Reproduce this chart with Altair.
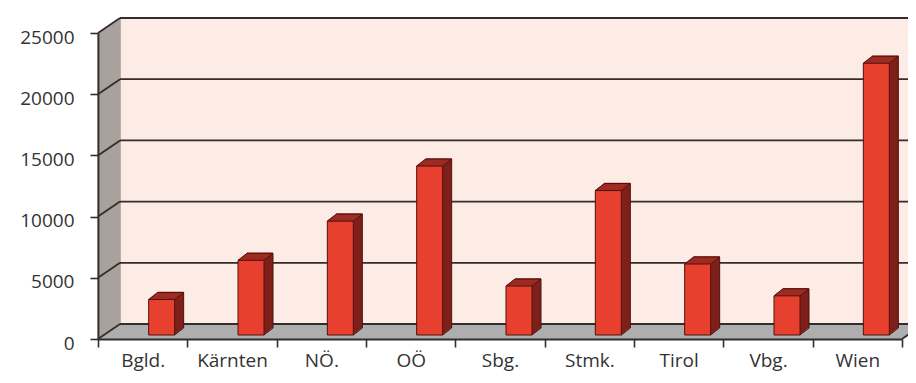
import altair as alt
import pandas as pd

# ---- data -------------------------------------------------------------
regions = ["Bgld.", "Kärnten", "NÖ.", "OÖ", "Sbg.", "Stmk.", "Tirol", "Vbg.", "Wien"]
values = [2900, 6100, 9300, 13800, 4000, 11800, 5800, 3200, 22200]
y_ticks = [0, 5000, 10000, 15000, 20000, 25000]

# ---- geometry / style ------------------------------------------------------
W, H = 804, 306
Y_MAX = 25000
DX, DY = 22, 15            # depth of the 3D frame (px)
BAR_W = 26                 # front face width (px)
BDX, BDY = 9, 7            # depth of the bars (px)
SX, SY = 19, 4             # position of the bars inside the depth (px)
X_END = W + DX + 40

PINK = "#FDEBE5"
WALL = "#A39B96"
FLOOR = "#A9A9AA"
LINE = "#332D2D"
FRONT = "#E8402E"
SIDE = "#7F1F19"
TOP = "#9E2C23"
EDGE = "#4E120E"
FONT = "Open Sans"

yscale = alt.Scale(domain=[0, Y_MAX], nice=False, zero=True)
y_axis = alt.Axis(title=None, orient="left", values=y_ticks, format="d",
                  labelFont=FONT, labelFontSize=19,
                  labelColor="#333333", labelPadding=16, labelOffset=4,
                  tickSize=8, tickColor=LINE, tickWidth=1.6,
                  domainColor=LINE, domainWidth=1.8, grid=False, zindex=1)
x_axis = alt.Axis(title=None, labelAngle=0, labelFont=FONT, labelFontSize=19,
                  labelColor="#333333", labelPadding=4, tickBand="extent",
                  tickSize=8, tickColor=LINE, tickWidth=1.6,
                  domainColor=LINE, domainWidth=1.8, zindex=1)
xscale = alt.Scale(domain=regions, paddingInner=0, paddingOuter=0)


def Yf(field):
    return alt.Y(field, type="quantitative", scale=yscale, axis=y_axis, title=None)


def Yd(v):
    return alt.Y(datum=v, scale=yscale, axis=y_axis, title=None)


one = pd.DataFrame({"k": [0]})
ticks_df = pd.DataFrame({"v": y_ticks})

# ---- frame (walls, floor, grid) ------------------------------------------------
layers = []
layers.append(alt.Chart(one).mark_rect(color=PINK, yOffset=-DY, y2Offset=-DY).encode(
    x=alt.value(DX), x2=alt.value(X_END), y=Yd(Y_MAX), y2=alt.Y2(datum=0)))
# floor: stack of horizontal strokes
for j in range(0, DY + 1):
    sx = j * DX / DY
    layers.append(alt.Chart(one).mark_rule(color=FLOOR, strokeWidth=1.5, yOffset=-j).encode(
        x=alt.value(sx), x2=alt.value(W + sx), y=Yd(0)))
# left wall: stack of vertical strokes
for i in range(0, DX + 1):
    oy = -i * DY / DX
    layers.append(alt.Chart(one).mark_rule(color=WALL, strokeWidth=1.5, yOffset=oy, y2Offset=oy).encode(
        x=alt.value(i), y=Yd(0), y2=alt.Y2(datum=Y_MAX)))
# grid lines on back wall
layers.append(alt.Chart(ticks_df).mark_rule(color=LINE, strokeWidth=1.8, yOffset=-DY).encode(
    x=alt.value(DX), x2=alt.value(X_END), y=Yf("v:Q")))
# diagonals on left wall
layers.append(alt.Chart(ticks_df).mark_rule(color=LINE, strokeWidth=1.8, y2Offset=-DY).encode(
    x=alt.value(0), x2=alt.value(DX), y=Yf("v:Q"), y2="v:Q"))
# right edge of floor
layers.append(alt.Chart(one).mark_rule(color=LINE, strokeWidth=1.8, y2Offset=-DY).encode(
    x=alt.value(W), x2=alt.value(W + DX), y=Yd(0), y2=alt.Y2(datum=0)))

# ---- bars -------------------------------------------------------------
bars_df = pd.DataFrame({"region": regions, "value": values, "base": [0] * len(regions)})
base = alt.Chart(bars_df).encode(
    x=alt.X("region:N", sort=regions, scale=xscale, axis=x_axis), y=Yf("value:Q"))

# side (extrusion)
for i in range(1, BDX + 1):
    off_y = -SY - i * BDY / BDX
    layers.append(base.mark_bar(size=BAR_W, color=SIDE, xOffset=SX + i,
                                yOffset=off_y, y2Offset=off_y))
# top face
for i in range(0, BDX + 1):
    off_y = -SY - i * BDY / BDX
    layers.append(base.mark_tick(orient="horizontal", size=BAR_W, thickness=1.6,
                                 color=TOP, opacity=1, xOffset=SX + i, yOffset=off_y))
# front face
layers.append(base.mark_bar(size=BAR_W, color=FRONT, stroke=EDGE, strokeWidth=1,
                            xOffset=SX, yOffset=-SY, y2Offset=-SY))

# edges
xl = SX - BAR_W / 2
xr = SX + BAR_W / 2
edge_kw = dict(color=EDGE, strokeWidth=1)
layers.append(base.mark_rule(xOffset=xl, x2Offset=xl + BDX, yOffset=-SY,
                             y2Offset=-SY - BDY, **edge_kw).encode(x2="region:N", y2="value:Q"))
layers.append(base.mark_rule(xOffset=xr, x2Offset=xr + BDX, yOffset=-SY,
                             y2Offset=-SY - BDY, **edge_kw).encode(x2="region:N", y2="value:Q"))
layers.append(base.mark_rule(xOffset=xl + BDX, x2Offset=xr + BDX, yOffset=-SY - BDY,
                             y2Offset=-SY - BDY, **edge_kw).encode(x2="region:N", y2="value:Q"))
layers.append(base.mark_rule(xOffset=xr + BDX, x2Offset=xr + BDX, yOffset=-SY - BDY,
                             y2Offset=-SY - BDY, **edge_kw).encode(y2="base:Q"))
layers.append(base.mark_rule(xOffset=xr, x2Offset=xr + BDX, yOffset=-SY,
                             y2Offset=-SY - BDY, **edge_kw).encode(
    x2="region:N", y=Yf("base:Q"), y2="base:Q"))

chart = (
    alt.layer(*layers)
    .properties(width=W, height=H, autosize="none",
                padding={"left": 90, "top": 25, "right": 6, "bottom": 34},
                background="white")
    .configure_view(stroke=None)
)

chart.save("out.html", embed_options={"renderer": "svg", "actions": False})
